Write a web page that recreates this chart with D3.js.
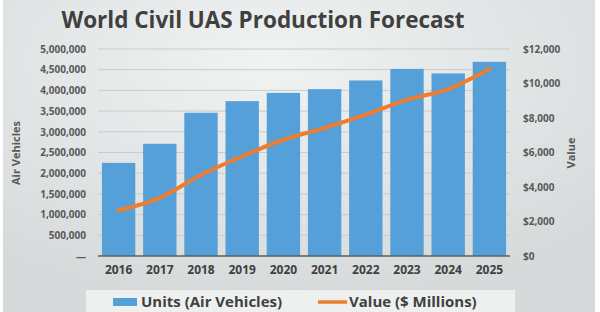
<!DOCTYPE html>
<html>
<head>
<meta charset="utf-8">
<script src="https://cdnjs.cloudflare.com/ajax/libs/d3/7.8.5/d3.min.js"></script>
<style>
  body { margin: 0; background: #fff; }
  svg { display: block; font-family: "Open Sans", sans-serif; }
</style>
</head>
<body>
<svg id="chart" width="600" height="312"></svg>
<script>
// values
var years = ['2016', '2017', '2018', '2019', '2020', '2021', '2022', '2023', '2024', '2025'];
var units = [2250000, 2710000, 3460000, 3740000, 3940000, 4030000, 4240000, 4520000, 4410000, 4690000];
var value = [2650, 3370, 4700, 5780, 6740, 7420, 8190, 9060, 9680, 10840];
var unitTicks = [0, 500000, 1000000, 1500000, 2000000, 2500000, 3000000, 3500000, 4000000, 4500000, 5000000];
var valueTicks = [0, 2000, 4000, 6000, 8000, 10000, 12000];

var svg = d3.select('#chart');
var W = 600, H = 312;
var padding = {t: 49, r: 90, b: 56, l: 98};

// background
var defs = svg.append('defs');
var grad = defs.append('radialGradient').attr('id', 'bg')
    .attr('cx', '45%').attr('cy', '20%').attr('r', '75%');
grad.append('stop').attr('offset', '0%').attr('stop-color', '#f1f3f3');
grad.append('stop').attr('offset', '100%').attr('stop-color', '#d6dada');
svg.append('rect').attr('x', 3).attr('y', 0).attr('width', 592).attr('height', H)
    .attr('fill', 'url(#bg)');

var x = d3.scaleBand().domain(years).range([padding.l, 510]).paddingInner(0.19).paddingOuter(0.095);
var yL = d3.scaleLinear().domain([0, 5000000]).range([256, padding.t]);
var yR = d3.scaleLinear().domain([0, 12000]).range([256, padding.t]);

// gridlines
svg.append('g')
    .selectAll('line')
    .data(unitTicks.slice(1))
    .enter().append('line')
    .attr('x1', padding.l).attr('x2', 510)
    .attr('y1', function(d) { return yL(d); })
    .attr('y2', function(d) { return yL(d); })
    .attr('stroke', '#c9cccc').attr('stroke-width', 1);

// bars
svg.append('g')
    .selectAll('rect')
    .data(units)
    .enter().append('rect')
    .attr('x', function(d, i) { return x(years[i]); })
    .attr('y', function(d) { return yL(d); })
    .attr('width', x.bandwidth())
    .attr('height', function(d) { return yL(0) - yL(d); })
    .attr('fill', '#55a0d8');

// baseline
svg.append('line').attr('x1', padding.l).attr('x2', 510)
    .attr('y1', yL(0)).attr('y2', yL(0))
    .attr('stroke', '#5a6060').attr('stroke-width', 1.5);

// value line
var line = d3.line()
    .x(function(d, i) { return x(years[i]) + x.bandwidth() / 2; })
    .y(function(d) { return yR(d); })
    .curve(d3.curveMonotoneX);
svg.append('path').datum(value)
    .attr('d', line)
    .attr('fill', 'none')
    .attr('stroke', '#ed7d31')
    .attr('stroke-width', 4)
    .attr('stroke-linecap', 'round');

// left axis
var fmt = d3.format(',');
var leftAxis = d3.axisLeft(yL).tickValues(unitTicks).tickSize(0).tickPadding(12)
    .tickFormat(function(d) { return d === 0 ? '—' : fmt(d); });
var gL = svg.append('g').attr('transform', 'translate(' + padding.l + ',0)').call(leftAxis);
gL.select('.domain').remove();
gL.selectAll('text').attr('fill', '#595959').style('font-size', '10px').style('font-weight', 'bold')
    .style('font-family', '"Open Sans", sans-serif');

// right axis
var rightAxis = d3.axisRight(yR).tickValues(valueTicks).tickSize(0).tickPadding(13)
    .tickFormat(function(d) { return '$' + fmt(d); });
var gR = svg.append('g').attr('transform', 'translate(510,0)').call(rightAxis);
gR.select('.domain').remove();
gR.selectAll('text').attr('fill', '#595959').style('font-size', '10px').style('font-weight', 'bold')
    .style('font-family', '"Open Sans", sans-serif');

// bottom axis
var bottomAxis = d3.axisBottom(x).tickSize(0).tickPadding(9);
var gB = svg.append('g').attr('transform', 'translate(0,' + yL(0) + ')').call(bottomAxis);
gB.select('.domain').remove();
gB.selectAll('text').attr('fill', '#404040').style('font-size', '12px').style('font-weight', 'bold')
    .style('font-family', '"Open Sans", sans-serif');

// title
svg.append('text').attr('x', 263).attr('y', 28).attr('text-anchor', 'middle')
    .attr('fill', '#404040').style('font-size', '22.5px').style('font-weight', 'bold')
    .text('World Civil UAS Production Forecast');

// axis titles
svg.append('text').attr('transform', 'translate(20,153) rotate(-90)')
    .attr('text-anchor', 'middle').attr('fill', '#595959')
    .style('font-size', '11px').style('font-weight', 'bold').text('Air Vehicles');
svg.append('text').attr('transform', 'translate(575,153) rotate(-90)')
    .attr('text-anchor', 'middle').attr('fill', '#595959')
    .style('font-size', '11px').style('font-weight', 'bold').text('Value');

// legend
var lg = svg.append('g');
lg.append('rect').attr('x', 86).attr('y', 290).attr('width', 429).attr('height', 22)
    .attr('fill', '#eef0f0');
lg.append('rect').attr('x', 113).attr('y', 298).attr('width', 24).attr('height', 8).attr('fill', '#55a0d8');
lg.append('text').attr('x', 141).attr('y', 307).attr('fill', '#404040')
    .style('font-size', '15px').style('font-weight', 'bold').text('Units (Air Vehicles)');
lg.append('line').attr('x1', 318).attr('x2', 347).attr('y1', 302).attr('y2', 302)
    .attr('stroke', '#ed7d31').attr('stroke-width', 3.5);
lg.append('text').attr('x', 349).attr('y', 307).attr('fill', '#404040')
    .style('font-size', '15px').style('font-weight', 'bold').text('Value ($ Millions)');
</script>
</body>
</html>
